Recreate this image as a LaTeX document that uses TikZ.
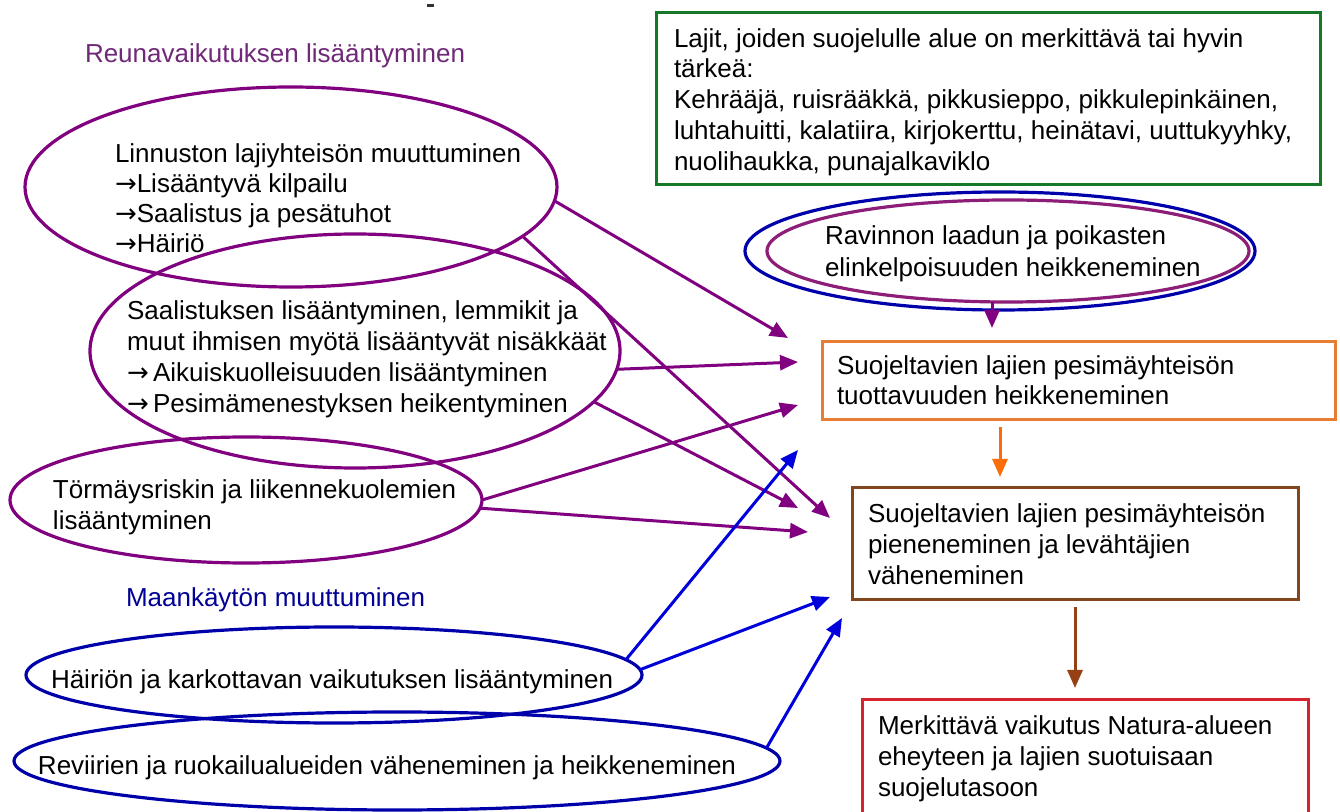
\documentclass[tikz,border=0pt]{standalone}
\usepackage{fontspec}
\setmainfont{Liberation Sans}
\newfontfamily\arrfont{DejaVu Sans}
\newcommand{\rarr}{{\arrfont →}}
\usetikzlibrary{arrows.meta,shapes.geometric}
\definecolor{pur}{RGB}{128,0,128}
\definecolor{purtxt}{RGB}{112,40,120}
\definecolor{pinkpur}{RGB}{140,30,120}
\definecolor{blu}{RGB}{0,0,170}
\definecolor{bluarr}{RGB}{0,0,220}
\definecolor{blutxt}{RGB}{0,0,150}
\definecolor{grn}{RGB}{20,120,40}
\definecolor{org}{RGB}{230,125,50}
\definecolor{orgarr}{RGB}{250,110,10}
\definecolor{brn}{RGB}{130,70,30}
\definecolor{brnarr}{RGB}{150,65,20}
\definecolor{rd}{RGB}{215,35,45}
\begin{document}
\begin{tikzpicture}[x=0.5pt,y=-0.5pt,
  ell/.style={ellipse, draw, line width=1.6pt, inner sep=0pt, outer sep=0pt},
  box/.style={rectangle, draw, line width=1.5pt, inner sep=0pt, outer sep=0pt, anchor=north west},
  txt/.style={anchor=north west, inner sep=0pt, outer sep=0pt, align=left, font=\fontsize{13}{15}\selectfont},
  txtb/.style={txt, font=\fontsize{13}{15.5}\selectfont},
  txtc/.style={txt, font=\fontsize{13}{16}\selectfont},
  one/.style={anchor=base west, inner sep=0pt, outer sep=0pt, font=\fontsize{13}{15}\selectfont},
  arr/.style={line width=1.5pt, -{Triangle[length=9pt,width=7.5pt]}},
  parr/.style={arr, draw=pur},
  barr/.style={arr, draw=bluarr}]
\useasboundingbox (0,0) rectangle (1340,812);
\clip (0,0) rectangle (1340,812);
\fill[white] (0,0) rectangle (1340,812);

% stray mark at top
\draw[line width=1.5pt, black!80] (427,6) -- (434,6);

% headings
\node[one, text=purtxt] (h1) at (85,63) {Reunavaikutuksen lisääntyminen};
\node[one, text=blutxt] (h2) at (126,607) {Maankäytön muuttuminen};

% left ellipses
\node[ell, draw=pur, minimum width=266pt, minimum height=100pt] (e1) at (291,187) {};
\node[ell, draw=pur, minimum width=265pt, minimum height=117pt] (e2) at (355,351) {};
\node[ell, draw=pur, minimum width=236pt, minimum height=63pt] (e3) at (246,500) {};
\node[ell, draw=blu, minimum width=308pt, minimum height=48pt] (e4) at (334,675) {};
\node[ell, draw=blu, minimum width=383pt, minimum height=49pt] (e5) at (397,761) {};

\node[txt] (t1) at (115,142) {\strut Linnuston lajiyhteisön muuttuminen\\ \strut \rarr Lisääntyvä kilpailu\\ \strut \rarr Saalistus ja pesätuhot\\ \strut \rarr Häiriö};
\node[txtb] (t2) at (127,298) {\strut Saalistuksen lisääntyminen, lemmikit ja\\ \strut muut ihmisen myötä lisääntyvät nisäkkäät\\ \strut \rarr\,Aikuiskuolleisuuden lisääntyminen\\ \strut \rarr\,Pesimämenestyksen heikentyminen};
\node[txtb] (t3) at (53,477) {\strut Törmäysriskin ja liikennekuolemien\\ \strut lisääntyminen};
\node[one] (t4) at (51,689) {Häiriön ja karkottavan vaikutuksen lisääntyminen};
\node[one] (t5) at (38,775) {Reviirien ja ruokailualueiden väheneminen ja heikkeneminen};

% right side
\node[box, draw=grn, minimum width=332pt, minimum height=86pt] (gb) at (656,13) {};
\node[txtb, font=\fontsize{13}{15.4}\selectfont] (gt) at (674,25.5) {\strut Lajit, joiden suojelulle alue on merkittävä tai hyvin\\ \strut tärkeä:\\ \strut Kehrääjä, ruisrääkkä, pikkusieppo, pikkulepinkäinen,\\ \strut luhtahuitti, kalatiira, kirjokerttu, heinätavi, uuttukyyhky,\\ \strut nuolihaukka, punajalkaviklo};

\node[ell, draw=blu, minimum width=255pt, minimum height=59pt] (dbo) at (1000,251) {};
\node[ell, draw=pinkpur, minimum width=241pt, minimum height=51pt] (dbi) at (1008,251) {};
\node[txtc] (dt) at (825,222.6) {\strut Ravinnon laadun ja poikasten\\ \strut elinkelpoisuuden heikkeneminen};

\node[box, draw=org, minimum width=256.5pt, minimum height=39pt] (ob) at (822,342) {};
\node[txt] (otx) at (837,354) {\strut Suojeltavien lajien pesimäyhteisön\\ \strut tuottavuuden heikkeneminen};

\node[box, draw=brn, minimum width=223pt, minimum height=56pt] (bb) at (852,488) {};
\node[txtb] (btx) at (868,501) {\strut Suojeltavien lajien pesimäyhteisön\\ \strut pieneneminen ja levähtäjien\\ \strut väheneminen};

\node[box, draw=rd, minimum width=223pt, minimum height=57.5pt] (rb) at (862,700) {};
\node[txtb] (rtx) at (878,713) {\strut Merkittävä vaikutus Natura-alueen\\ \strut eheyteen ja lajien suotuisaan\\ \strut suojelutasoon};

% arrow end points
\coordinate (p1) at (788,338);
\coordinate (p2) at (830,518);
\coordinate (p3) at (798,362);
\coordinate (p4) at (798,508);
\coordinate (p5) at (798,405);
\coordinate (p6) at (808,532);
\coordinate (q1) at (798,450);
\coordinate (q2) at (830,597);
\coordinate (q3) at (842,618);
\coordinate (v0) at (992,328);
\coordinate (v1) at (1000,477);
\coordinate (v2) at (1075,688);

% purple arrows
\draw[parr] (e1.-3.4) -- (p1);
\draw[parr] (e1.-12) -- (p2);
\draw[parr] (e2.-4.5) -- (p3);
\draw[parr] (e2.-12.5) -- (p4);
\draw[parr] (e3.0) -- (p5);
\draw[parr] (e3.-2.5) -- (p6);

% blue arrows
\draw[barr] (e4.3.3) -- (q1);
\draw[barr] (e4.1.3) -- (q2);
\draw[barr] (e5.2.9) -- (q3);

% vertical arrows
\draw[arr, draw=pur] (v0 |- dbi.south) -- (v0);
\draw[arr, draw=orgarr, shorten <=3.5pt] (v1 |- ob.south) -- (v1);
\draw[arr, draw=brnarr, shorten <=3.5pt] (v2 |- bb.south) -- (v2);
\end{tikzpicture}
\end{document}
